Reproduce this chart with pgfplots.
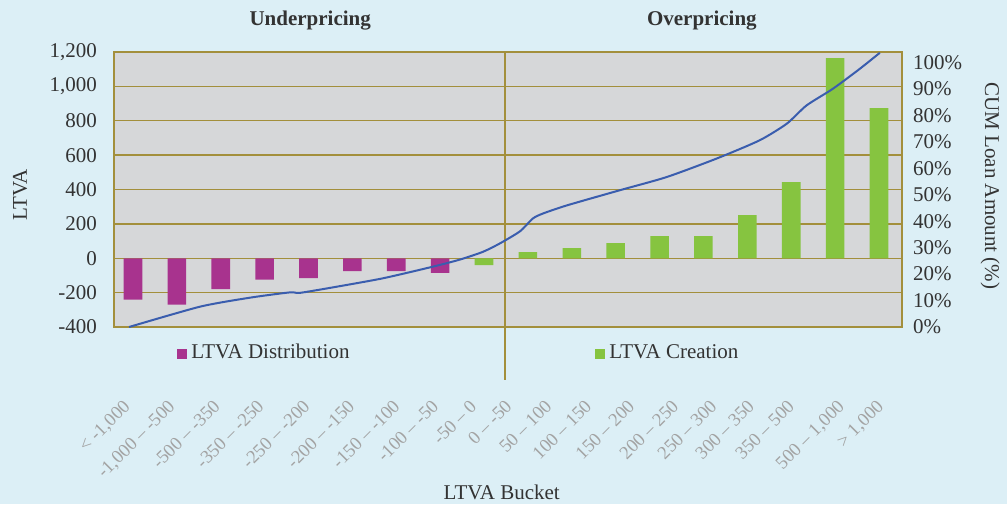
\documentclass[border=0pt]{standalone}
\usepackage{fontspec}
\setmainfont{Liberation Serif}
\usepackage{pgfplots}
\pgfplotsset{compat=1.18}
\definecolor{pagebg}{HTML}{DCEFF6}
\definecolor{plotbg}{HTML}{D6D7D9}
\definecolor{olive}{HTML}{A38F3C}
\definecolor{distmag}{HTML}{A8338E}
\definecolor{creagreen}{HTML}{86C440}
\definecolor{cumblue}{HTML}{3A5DAE}
\definecolor{txt}{HTML}{333333}
\newcommand{\lblfont}{\fontsize{10.5}{12}\selectfont}

\begin{document}
\begin{tikzpicture}
\useasboundingbox[fill=pagebg] (-57pt,-88.5pt) rectangle (446.5pt,163.5pt);

% bars, left axis (LTVA)
\begin{axis}[
  at={(0pt,0pt)}, anchor=south west,
  scale only axis, width=394pt, height=137.5pt,
  xmin=-0.433, xmax=17.525, ymin=-400, ymax=1200,
  axis background/.style={fill=plotbg},
  axis line style={olive, line width=0.85pt},
  ytick={-400,-200,...,1200},
  yticklabels={-400,-200,0,200,400,600,800,{1,000},{1,200}},
  ymajorgrids, grid style={olive, line width=0.65pt},
  major tick length=0pt,
  xtick={-0.11,0.91,1.94,2.94,3.99,5.01,6.04,6.92,7.79,8.59,9.5,10.41,11.39,12.39,13.26,14.12,15.03,16.17,17.06},
  xticklabels={{< -1,000}, {-1,000 – -500}, {-500 – -350}, {-350 – -250}, {-250 – -200}, {-200 – -150},
    {-150 – -100}, {-100 – -50}, {-50 – 0}, {0 – -50}, {50 – 100}, {100 – 150}, {150 – 200}, {200 – 250},
    {250 – 300}, {300 – 350}, {350 – 500}, {500 – 1,000}, {> 1,000}},
  xticklabel style={xshift=-3pt, yshift=-31pt, rotate=45, anchor=north east,
    font=\fontsize{9.3}{10}\selectfont, text=gray!72},
  yticklabel style={font=\lblfont, text=txt, xshift=-5pt},
  clip=false,
  ylabel={LTVA}, ylabel style={at={(axis description cs:-0.119,0.48)}, anchor=center, font=\lblfont, text=txt},
  xlabel={LTVA Bucket}, xlabel style={at={(axis description cs:0.492,-0.6)}, anchor=center, font=\lblfont, text=txt},
  legend style={at={(axis description cs:0.08,-0.095)}, anchor=west, draw=none, fill=none,
    font=\lblfont, text=txt, inner sep=0pt},
  legend columns=2,
]
\addplot[ybar, bar width=9.3pt, bar shift=0pt, fill=distmag, draw=none,
  legend image code/.code={\fill[distmag] (0pt,-3pt) rectangle (5pt,2pt);}]
  coordinates {(0,-240) (1,-270) (2,-180) (3,-125) (4,-115) (5,-75) (6,-75) (7,-85)};
\addlegendentry{\makebox[200pt][l]{LTVA Distribution}}
\addplot[ybar, bar width=9.3pt, bar shift=0pt, fill=creagreen, draw=none,
  legend image code/.code={\fill[creagreen] (0pt,-3pt) rectangle (5pt,2pt);}]
  coordinates {(8,-40) (9,36) (10,59) (11,88) (12,129) (13,129) (14,251) (15,443) (16,1165) (17,874)};
\addlegendentry{LTVA Creation}
\draw[olive, line width=0.85pt] (axis cs:8.47,1200) -- (axis cs:8.47,-708);
\node[font=\lblfont\bfseries, text=txt] at (axis description cs:0.249,1.116) {Underpricing};
\node[font=\lblfont\bfseries, text=txt] at (axis description cs:0.746,1.116) {Overpricing};
\end{axis}

% cumulative line, right axis
\begin{axis}[
  at={(0pt,0pt)}, anchor=south west,
  scale only axis, width=394pt, height=137.5pt,
  xmin=-0.433, xmax=17.525, ymin=0, ymax=104,
  axis x line=none, axis y line*=right,
  axis line style={olive, line width=0.85pt},
  ytick={0,10,...,100},
  yticklabels={0\%,10\%,20\%,30\%,40\%,50\%,60\%,70\%,80\%,90\%,100\%},
  major tick length=0pt,
  yticklabel style={font=\lblfont, text=txt, xshift=2pt},
  ylabel={CUM Loan Amount (\%)},
  ylabel style={at={(axis description cs:1.112,0.513)}, anchor=center, rotate=180, font=\lblfont, text=txt},
]
\addplot[cumblue, line width=1pt, smooth, tension=0.4] coordinates {
  (-0.09,0) (1.53,7.7) (2.67,11.1) (3.58,13.1) (3.80,12.9) (4.56,15.0) (5.69,18.4)
  (6.83,22.8) (7.45,25.5) (7.97,28.4) (8.36,31.6) (8.82,36.2) (9.11,41.0) (9.34,42.9)
  (9.89,46.0) (11.09,51.7) (12.16,56.7) (13.30,63.7) (14.28,70.6) (14.90,76.9)
  (15.35,83.8) (15.95,90.1) (16.56,97.6) (17.02,103.7)};
\end{axis}
\end{tikzpicture}
\end{document}
